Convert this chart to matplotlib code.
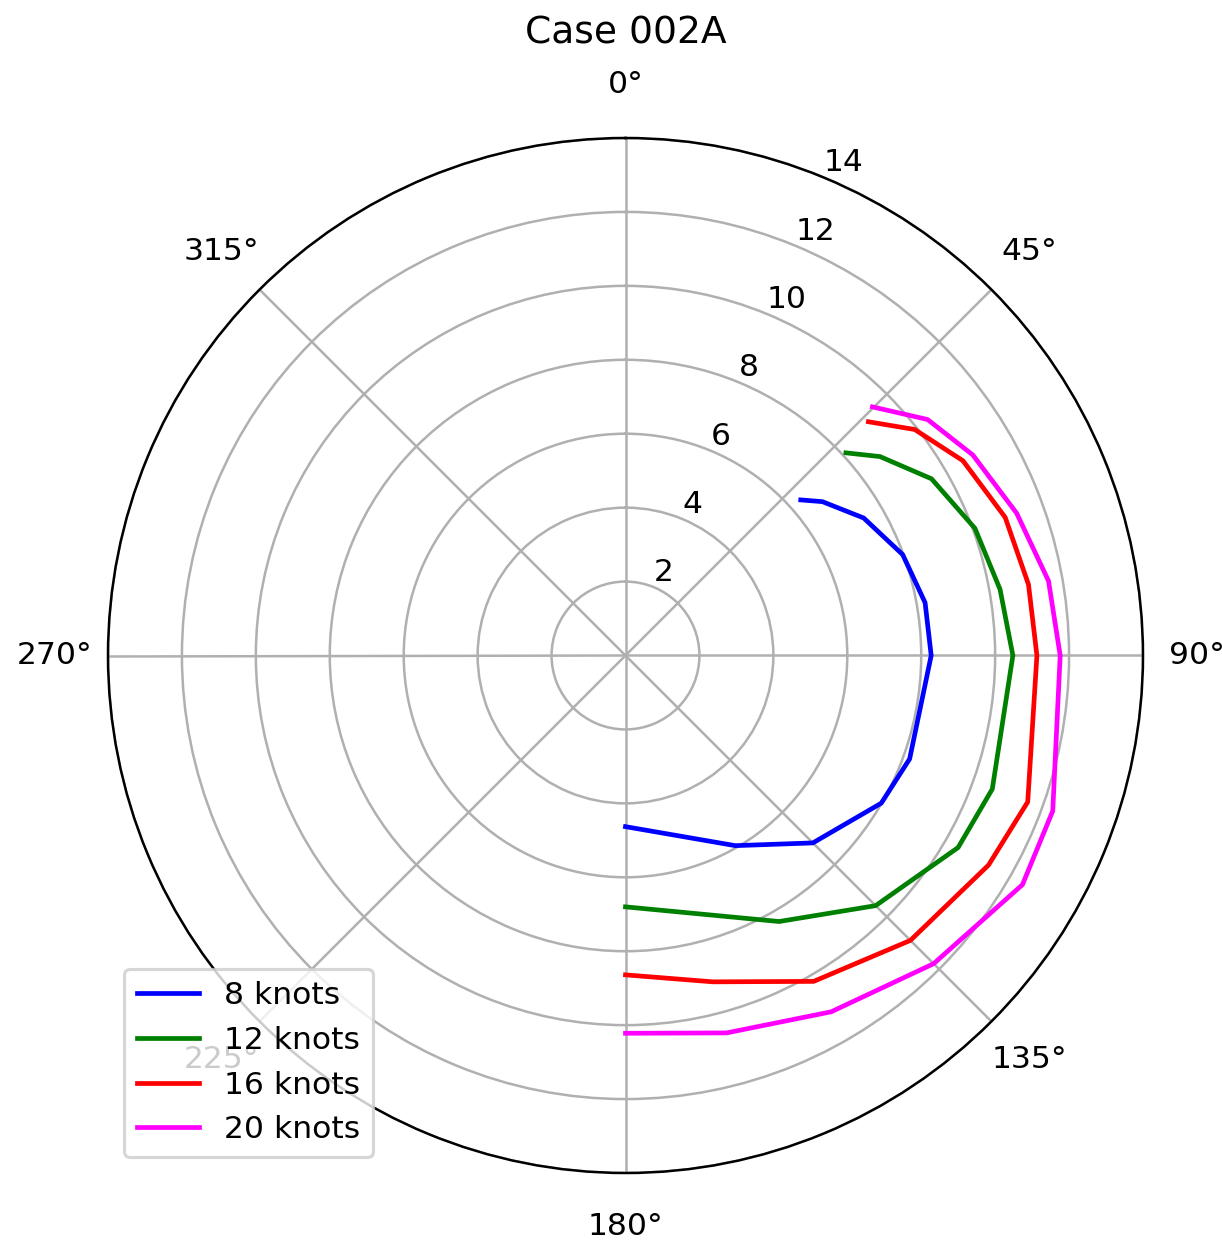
import numpy as np
import matplotlib
matplotlib.use("Agg")
import matplotlib.pyplot as plt

# True wind angles (deg) and boat speeds (knots) per wind speed
angles_8 = [48.4, 52, 60, 70, 80, 90, 110, 120, 135, 150, 180]
speed_8 = [6.34, 6.76, 7.44, 7.98, 8.23, 8.27, 8.18, 7.99, 7.17, 5.94, 4.63]

angles_12 = [47.4, 52, 60, 70, 80, 90, 110, 120, 135, 150, 180]
speed_12 = [8.10, 8.74, 9.56, 10.06, 10.29, 10.48, 10.56, 10.39, 9.57, 8.31, 6.80]

angles_16 = [46.1, 52, 60, 70, 80, 90, 110, 120, 135, 150, 165, 180]
speed_16 = [9.12, 9.93, 10.54, 10.93, 11.07, 11.13, 11.58, 11.34, 10.90, 10.18, 9.14, 8.64]

angles_20 = [44.8, 52, 60, 70, 80, 90, 110, 120, 135, 150, 165, 180]
speed_20 = [9.48, 10.37, 10.85, 11.26, 11.62, 11.76, 12.30, 12.40, 11.79, 11.13, 10.57, 10.22]

labels = ["8 knots", "12 knots", "16 knots", "20 knots"]
colors = ["blue", "green", "red", "magenta"]
title = "Case 002A"
r_ticks = [2, 4, 6, 8, 10, 12, 14]

DPI = 226
fig = plt.figure(figsize=(1222 / DPI, 1245 / DPI), dpi=DPI)
ax = fig.add_axes([108 / 1222, 72 / 1245, 1035 / 1222, 1035 / 1245], projection="polar")
ax.set_theta_zero_location("N")
ax.set_theta_direction(-1)

series = [(angles_8, speed_8), (angles_12, speed_12), (angles_16, speed_16), (angles_20, speed_20)]
for (a, s), lab, c in zip(series, labels, colors):
    ax.plot(np.radians(a), s, color=c, label=lab)

ax.set_ylim(0, 14)
ax.set_yticks(r_ticks)
ax.set_rlabel_position(22.5)
ax.set_thetagrids(np.arange(0, 360, 45))
ax.tick_params(axis="x", pad=6.6)
ax.grid(True)
ax.set_title(title, pad=8.5)
ax.legend(loc="lower left", bbox_to_anchor=(124 / 1222, 88 / 1245),
          bbox_transform=fig.transFigure, borderaxespad=0)

fig.savefig("out.png", dpi=DPI)
